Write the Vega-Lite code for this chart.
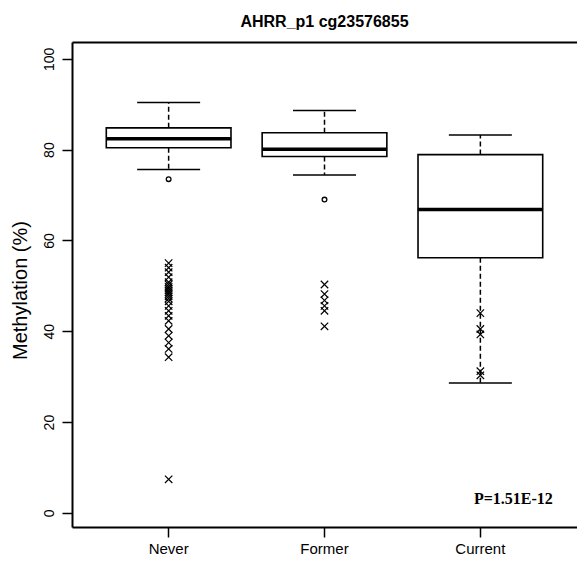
{
  "$schema": "https://vega.github.io/schema/vega-lite/v6.json",
  "width": 505,
  "height": 485,
  "autosize": "none",
  "padding": {"left": 72, "top": 42, "right": 0, "bottom": 35},
  "background": "white",
  "title": {
    "text": "AHRR_p1 cg23576855",
    "font": "Liberation Sans",
    "fontSize": 16,
    "fontWeight": "bold",
    "color": "black",
    "offset": 12,
    "anchor": "middle"
  },
  "config": {
    "view": {"stroke": null},
    "axis": {
      "domainColor": "black",
      "domainWidth": 2,
      "tickColor": "black",
      "tickWidth": 1.5,
      "tickSize": 10,
      "grid": false,
      "labelColor": "black",
      "labelFont": "Liberation Sans",
      "titleColor": "black",
      "titleFont": "Liberation Sans"
    }
  },
  "datasets": {
    "stats": [
      {"group": "Never", "lo": 75.6, "q1": 80.4, "median": 82.4, "q3": 84.8, "hi": 90.4},
      {"group": "Former", "lo": 74.4, "q1": 78.5, "median": 80.1, "q3": 83.7, "hi": 88.6},
      {"group": "Current", "lo": 28.6, "q1": 56.2, "median": 66.8, "q3": 78.9, "hi": 83.2}
    ],
    "outliers": [
      {"group": "Never", "value": 73.5},
      {"group": "Former", "value": 69.0}
    ],
    "crosses": [
      {"group": "Never", "value": 55.0},
      {"group": "Never", "value": 54.0},
      {"group": "Never", "value": 53.0},
      {"group": "Never", "value": 51.9},
      {"group": "Never", "value": 50.8},
      {"group": "Never", "value": 50.3},
      {"group": "Never", "value": 49.8},
      {"group": "Never", "value": 49.4},
      {"group": "Never", "value": 49.0},
      {"group": "Never", "value": 48.6},
      {"group": "Never", "value": 48.2},
      {"group": "Never", "value": 47.7},
      {"group": "Never", "value": 47.2},
      {"group": "Never", "value": 46.6},
      {"group": "Never", "value": 45.6},
      {"group": "Never", "value": 44.5},
      {"group": "Never", "value": 43.4},
      {"group": "Never", "value": 42.3},
      {"group": "Never", "value": 40.5},
      {"group": "Never", "value": 39.0},
      {"group": "Never", "value": 37.5},
      {"group": "Never", "value": 36.1},
      {"group": "Never", "value": 34.3},
      {"group": "Never", "value": 7.4},
      {"group": "Former", "value": 50.3},
      {"group": "Former", "value": 48.2},
      {"group": "Former", "value": 46.8},
      {"group": "Former", "value": 45.6},
      {"group": "Former", "value": 44.5},
      {"group": "Former", "value": 41.1},
      {"group": "Current", "value": 44.0},
      {"group": "Current", "value": 40.5},
      {"group": "Current", "value": 39.3},
      {"group": "Current", "value": 31.2},
      {"group": "Current", "value": 30.3}
    ],
    "note": [
      {"group": "Current", "value": 3, "label": "P=1.51E-12"}
    ]
  },
  "layer": [
    {
      "data": {"name": "stats"},
      "mark": {"type": "rule", "stroke": "black", "strokeWidth": 1.5, "strokeDash": [5, 3]},
      "encoding": {
        "x": {
          "field": "group", "type": "nominal",
          "scale": {"domain": ["Never", "Former", "Current"], "paddingInner": 0.2, "paddingOuter": 0.22},
          "axis": {"orient": "bottom", "title": null, "labelAngle": 0, "labelFontSize": 15, "labelPadding": 4, "tickSize": 10}
        },
        "y": {
          "field": "q3", "type": "quantitative",
          "scale": {"domain": [-3.1, 103.7], "nice": false, "zero": false},
          "axis": {
            "values": [0, 20, 40, 60, 80, 100],
            "labelAngle": -90,
            "labelAlign": "center",
            "labelBaseline": "bottom",
            "labelFontSize": 14,
            "labelPadding": 6,
            "title": "Methylation (%)",
            "titleFontSize": 20,
            "titleFontWeight": "normal",
            "titleAngle": -90,
            "titleAlign": "center",
            "titleBaseline": "middle",
            "titleX": -52,
            "titleY": 248
          }
        },
        "y2": {"field": "hi"}
      }
    },
    {
      "data": {"name": "stats"},
      "mark": {"type": "rule", "stroke": "black", "strokeWidth": 1.5, "strokeDash": [5, 3]},
      "encoding": {
        "x": {"field": "group", "type": "nominal", "axis": null},
        "y": {"field": "q1", "type": "quantitative"},
        "y2": {"field": "lo"}
      }
    },
    {
      "data": {"name": "stats"},
      "mark": {"type": "bar", "fill": "white", "stroke": "black", "strokeWidth": 1.6},
      "encoding": {
        "x": {"field": "group", "type": "nominal", "axis": null},
        "y": {"field": "q1", "type": "quantitative"},
        "y2": {"field": "q3"}
      }
    },
    {
      "data": {"name": "stats"},
      "mark": {"type": "tick", "orient": "horizontal", "color": "black", "size": 125, "thickness": 3.5, "opacity": 1},
      "encoding": {
        "x": {"field": "group", "type": "nominal", "axis": null},
        "y": {"field": "median", "type": "quantitative"}
      }
    },
    {
      "data": {"name": "stats"},
      "mark": {"type": "tick", "orient": "horizontal", "color": "black", "size": 63, "thickness": 1.5, "opacity": 1},
      "encoding": {
        "x": {"field": "group", "type": "nominal", "axis": null},
        "y": {"field": "hi", "type": "quantitative"}
      }
    },
    {
      "data": {"name": "stats"},
      "mark": {"type": "tick", "orient": "horizontal", "color": "black", "size": 63, "thickness": 1.5, "opacity": 1},
      "encoding": {
        "x": {
          "field": "group", "type": "nominal",
          "axis": {"orient": "top", "labels": false, "ticks": false, "title": null}
        },
        "y": {"field": "lo", "type": "quantitative"}
      }
    },
    {
      "data": {"name": "outliers"},
      "mark": {"type": "point", "shape": "circle", "filled": false, "stroke": "black", "strokeWidth": 1.3, "size": 22, "opacity": 1},
      "encoding": {
        "x": {"field": "group", "type": "nominal", "axis": null},
        "y": {"field": "value", "type": "quantitative"}
      }
    },
    {
      "data": {"name": "crosses"},
      "mark": {"type": "point", "shape": "M-1,-1L1,1M-1,1L1,-1", "filled": false, "stroke": "black", "strokeWidth": 1.2, "size": 55, "opacity": 1},
      "encoding": {
        "x": {"field": "group", "type": "nominal", "axis": null},
        "y": {"field": "value", "type": "quantitative"}
      }
    },
    {
      "data": {"name": "note"},
      "mark": {"type": "text", "font": "Liberation Serif", "fontWeight": "bold", "fontSize": 16, "color": "black", "align": "center", "baseline": "middle", "dx": 33},
      "encoding": {
        "x": {"field": "group", "type": "nominal", "axis": null},
        "y": {"field": "value", "type": "quantitative"},
        "text": {"field": "label"}
      }
    }
  ],
  "resolve": {"axis": {"x": "independent"}}
}
